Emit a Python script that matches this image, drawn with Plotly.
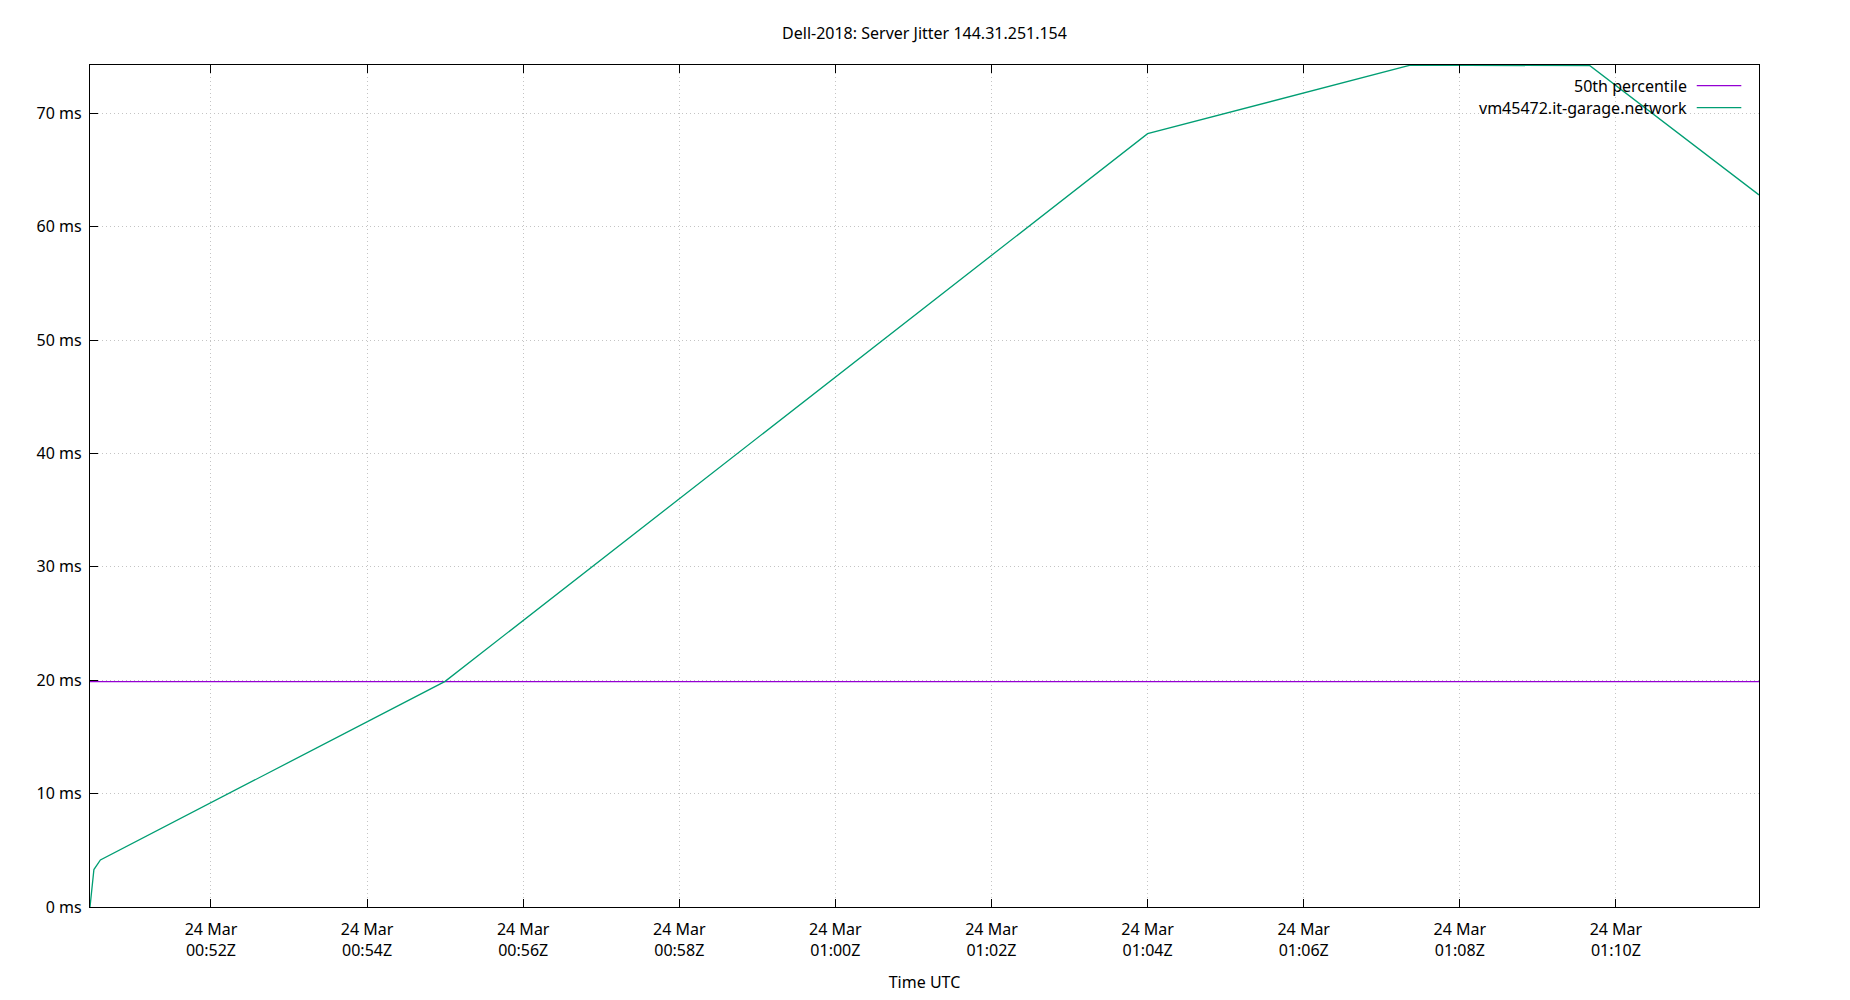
import plotly.graph_objects as go

# jitter samples for vm45472.it-garage.network
times = ["2024-03-24 00:50:27", "2024-03-24 00:50:30", "2024-03-24 00:50:35",
         "2024-03-24 00:55:00", "2024-03-24 01:04:00", "2024-03-24 01:07:22",
         "2024-03-24 01:09:40", "2024-03-24 01:11:50"]
jitter_ms = [0.0, 3.3, 4.15, 19.9, 68.2, 74.25, 74.2, 62.8]

p50_ms = [19.87, 19.87]
p50_times = [times[0], times[-1]]

x_tickvals = ["2024-03-24 00:52", "2024-03-24 00:54", "2024-03-24 00:56",
              "2024-03-24 00:58", "2024-03-24 01:00", "2024-03-24 01:02",
              "2024-03-24 01:04", "2024-03-24 01:06", "2024-03-24 01:08",
              "2024-03-24 01:10"]
x_ticktext = ["24 Mar<br>00:52Z", "24 Mar<br>00:54Z", "24 Mar<br>00:56Z",
              "24 Mar<br>00:58Z", "24 Mar<br>01:00Z", "24 Mar<br>01:02Z",
              "24 Mar<br>01:04Z", "24 Mar<br>01:06Z", "24 Mar<br>01:08Z",
              "24 Mar<br>01:10Z"]
y_tickvals = [0, 10, 20, 30, 40, 50, 60, 70]
y_ticktext = ["0 ms", "10 ms", "20 ms", "30 ms", "40 ms", "50 ms", "60 ms", "70 ms"]

legend_names = ["50th percentile", "vm45472.it-garage.network"]
colors = ["#9400d3", "#009e73"]

fig = go.Figure()
fig.add_trace(go.Scatter(x=p50_times, y=p50_ms, mode='lines',
                         name=legend_names[0],
                         line=dict(color=colors[0], width=1.3)))
fig.add_trace(go.Scatter(x=times, y=jitter_ms, mode='lines',
                         name=legend_names[1],
                         line=dict(color=colors[1], width=1.3)))

# gnuplot style key: text on the left, sample line on the right
for i, name in enumerate(legend_names):
    yk = 1 - (20.7 + 22 * i) / 842
    fig.add_annotation(xref='paper', yref='paper', x=0.9581, y=yk,
                       text=name, showarrow=False, xanchor='right',
                       yanchor='middle', font=dict(size=16, color='black'))
    fig.add_shape(type='line', xref='paper', yref='paper',
                  x0=0.9627, x1=0.9894, y0=yk, y1=yk,
                  line=dict(color=colors[i], width=1.3))

grid = dict(showgrid=True, gridcolor='#c4c4c4', griddash='1px,3px', gridwidth=1,
            showline=True, linecolor='black', linewidth=1.3,
            ticks='inside', ticklen=8, tickcolor='black', tickwidth=1.3,
            zeroline=False)

# page body adds 8px, so margins are shifted by that much
fig.update_layout(template='plotly_white',
                  width=1850, height=1000,
                  margin=dict(l=82, r=99, t=57, b=101),
                  font=dict(family='Noto Sans', size=16, color='black'),
                  showlegend=False,
                  plot_bgcolor='white', paper_bgcolor='white',
                  title=dict(text='Dell-2018: Server Jitter 144.31.251.154',
                             xref='paper', x=0.5, xanchor='center',
                             y=0.975, yanchor='middle', font=dict(size=16)))
fig.update_xaxes(**grid, range=[times[0], times[-1]],
                 tickvals=x_tickvals, ticktext=x_ticktext, mirror='allticks',
                 ticklabelstandoff=8,
                 title=dict(text='Time UTC', standoff=16, font=dict(size=16)))
fig.update_yaxes(**grid, range=[0, 74.26], tickvals=y_tickvals,
                 ticktext=y_ticktext, mirror=True, ticklabelstandoff=4)

fig.write_html("out.html")
